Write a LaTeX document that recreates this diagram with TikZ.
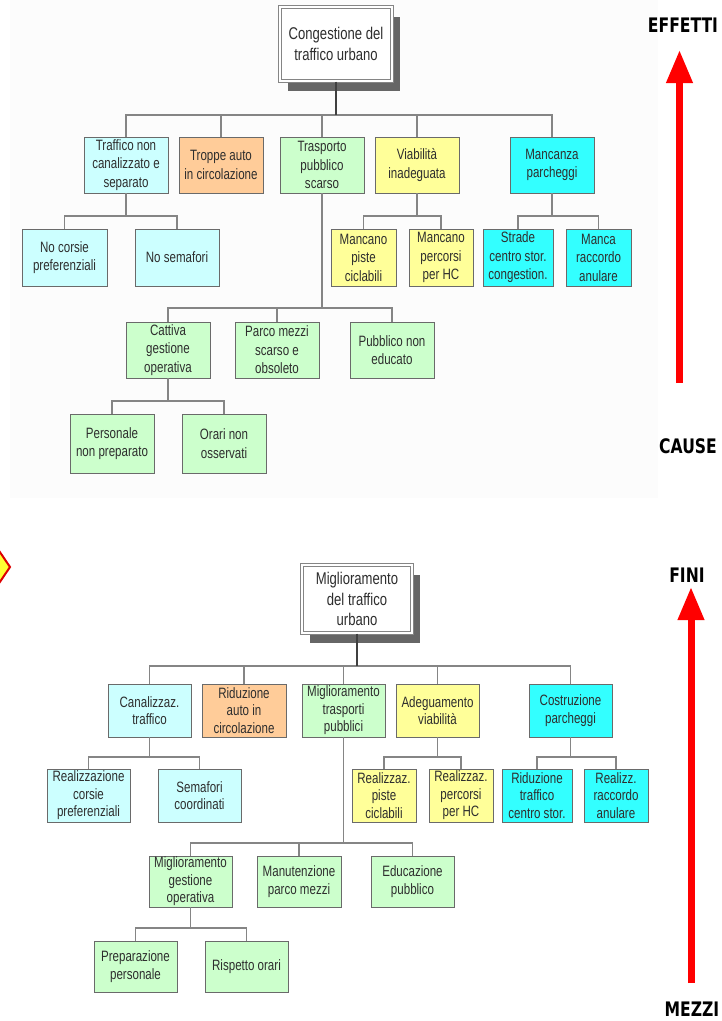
\documentclass[tikz,border=0pt]{standalone}
\usepackage{fontspec}
\newfontfamily\boxfont[FakeStretch=0.77]{Liberation Sans}
\newfontfamily\lblfont[FakeStretch=0.78]{DejaVu Sans}
\usetikzlibrary{arrows.meta,shadows}
\definecolor{cyanL}{HTML}{CCFFFF}
\definecolor{orangeL}{HTML}{FFCC99}
\definecolor{greenL}{HTML}{CCFFCC}
\definecolor{yellowL}{HTML}{FFFF99}
\definecolor{cyanS}{HTML}{33FFFF}
\definecolor{boxline}{HTML}{6A6A6A}
\definecolor{connc}{HTML}{858585}
\definecolor{txtc}{HTML}{2E2E2E}
\definecolor{panelbg}{HTML}{FCFCFC}
\definecolor{shadowc}{HTML}{666666}
\definecolor{diamondfill}{HTML}{FFFF33}
\definecolor{diamondline}{HTML}{DD0000}
\tikzset{
  box/.style={draw=boxline, line width=0.9pt, align=center, inner sep=0pt,
    text=txtc, font=\boxfont\fontsize{15}{18.5}\selectfont},
  boxb/.style={box, font=\boxfont\fontsize{15}{17.5}\selectfont},
  rootbox/.style={draw=connc, line width=1.3pt, double=white, double distance=1.6pt,
    fill=white, align=center, inner sep=0pt, text=txtc,
    drop shadow={shadow xshift=8pt, shadow yshift=-10pt, fill=shadowc, opacity=1}},
  conn/.style={draw=connc, line width=1.2pt},
  rootconn/.style={draw=black!75, line width=1.5pt},
  lbl/.style={font=\lblfont\bfseries\fontsize{20}{20}\selectfont, text=black, inner sep=0pt},
  bigarrow/.style={draw=red, line width=7pt, -{Triangle[width=25pt,length=33pt]}}
}
\begin{document}
\begin{tikzpicture}[x=1pt,y=-1pt]
\useasboundingbox (0,0) rectangle (722,1021);
\clip (0,0) rectangle (722,1021);
\fill[white] (0,0) rectangle (722,1021);
\fill[panelbg] (10,0) rectangle (658,498);

% ---------------- top tree ----------------
\node[rootbox, minimum width=112pt, minimum height=74pt,
  font=\boxfont\fontsize{17}{21}\selectfont] (root1) at (336,44) {Congestione del\\traffico urbano};

\node[box, fill=cyanL,   minimum width=84pt, minimum height=56pt] (a1) at (126,165) {Traffico non\\canalizzato e\\separato};
\node[box, fill=orangeL, minimum width=84pt, minimum height=56pt] (a2) at (221,165) {Troppe auto\\in circolazione};
\node[box, fill=greenL,  minimum width=84pt, minimum height=56pt] (a3) at (322,165) {Trasporto\\pubblico\\scarso};
\node[box, fill=yellowL, minimum width=84pt, minimum height=56pt] (a4) at (417,165) {Viabilità\\inadeguata};
\node[box, fill=cyanS,   minimum width=84pt, minimum height=56pt] (a5) at (552,165) {Mancanza\\parcheggi};

\node[box, fill=cyanL,   minimum width=85pt, minimum height=57pt] (b1) at (64.5,257.5) {No corsie\\preferenziali};
\node[box, fill=cyanL,   minimum width=84pt, minimum height=57pt] (b2) at (177,257.5) {No semafori};
\node[box, fill=yellowL, minimum width=65pt, minimum height=57pt] (b3) at (363.5,257.5) {Mancano\\piste\\ciclabili};
\node[box, fill=yellowL, minimum width=64pt, minimum height=57pt] (b4) at (441,257.5) {Mancano\\percorsi\\per HC};
\node[box, fill=cyanS,   minimum width=70pt, minimum height=57pt] (b5) at (518,257.5) {Strade\\centro stor.\\congestion.};
\node[box, fill=cyanS,   minimum width=65pt, minimum height=57pt] (b6) at (598.5,257.5) {Manca\\raccordo\\anulare};

\node[box, fill=greenL, minimum width=84pt, minimum height=56pt] (c1) at (168,350) {Cattiva\\gestione\\operativa};
\node[box, fill=greenL, minimum width=84pt, minimum height=56pt] (c2) at (277,350) {Parco mezzi\\scarso e\\obsoleto};
\node[box, fill=greenL, minimum width=84pt, minimum height=56pt] (c3) at (392,350) {Pubblico non\\educato};

\node[box, fill=greenL, minimum width=84pt, minimum height=59pt] (d1) at (112,443.5) {Personale\\non preparato};
\node[box, fill=greenL, minimum width=84pt, minimum height=59pt] (d2) at (224,443.5) {Orari non\\osservati};

\coordinate (k0) at (336,115);
\coordinate (k1) at (126,216);
\coordinate (k4) at (417,216);
\coordinate (k5) at (552,216);
\coordinate (k3) at (322,308);
\coordinate (kc) at (168,401);

\foreach \c in {a1,a2,a3,a4,a5} \draw[conn] (k0) -| (\c.north);
\draw[rootconn] (root1.south) -- (k0);
\foreach \c in {b1,b2} \draw[conn] (a1.south) -- (k1) -| (\c.north);
\foreach \c in {b3,b4} \draw[conn] (a4.south) -- (k4) -| (\c.north);
\foreach \c in {b5,b6} \draw[conn] (a5.south) -- (k5) -| (\c.north);
\foreach \c in {c1,c2,c3} \draw[conn] (a3.south) -- (k3) -| (\c.north);
\foreach \c in {d1,d2} \draw[conn] (c1.south) -- (kc) -| (\c.north);

% ---------------- bottom tree ----------------
\node[rootbox, minimum width=110pt, minimum height=68pt,
  font=\boxfont\fontsize{17}{20.5}\selectfont] (root2) at (357,599) {Miglioramento\\del traffico\\urbano};

\node[boxb, fill=cyanL,   minimum width=83pt, minimum height=53pt] (e1) at (149.5,710.5) {Canalizzaz.\\traffico};
\node[boxb, fill=orangeL, minimum width=84pt, minimum height=53pt] (e2) at (244,710.5) {Riduzione\\auto in\\circolazione};
\node[boxb, fill=greenL,  minimum width=83pt, minimum height=53pt] (e3) at (343.5,710.5) {Miglioramento\\trasporti\\pubblici};
\node[boxb, fill=yellowL, minimum width=83pt, minimum height=53pt] (e4) at (437.5,710.5) {Adeguamento\\viabilità};
\node[boxb, fill=cyanS,   minimum width=83pt, minimum height=53pt] (e5) at (570.5,710.5) {Costruzione\\parcheggi};

\node[boxb, fill=cyanL,   minimum width=83pt, minimum height=53pt] (f1) at (88.5,795.5) {Realizzazione\\corsie\\preferenziali};
\node[boxb, fill=cyanL,   minimum width=83pt, minimum height=53pt] (f2) at (199.5,795.5) {Semafori\\coordinati};
\node[boxb, fill=yellowL, minimum width=64pt, minimum height=53pt] (f3) at (384,795.5) {Realizzaz.\\piste\\ciclabili};
\node[boxb, fill=yellowL, minimum width=64pt, minimum height=53pt] (f4) at (461,795.5) {Realizzaz.\\percorsi\\per HC};
\node[boxb, fill=cyanS,   minimum width=70pt, minimum height=53pt] (f5) at (537,795.5) {Riduzione\\traffico\\centro stor.};
\node[boxb, fill=cyanS,   minimum width=64pt, minimum height=53pt] (f6) at (616,795.5) {Realizz.\\raccordo\\anulare};

\node[boxb, fill=greenL, minimum width=83pt, minimum height=51pt] (g1) at (190.5,881.5) {Miglioramento\\gestione\\operativa};
\node[boxb, fill=greenL, minimum width=84pt, minimum height=51pt] (g2) at (299,881.5) {Manutenzione\\parco mezzi};
\node[boxb, fill=greenL, minimum width=83pt, minimum height=51pt] (g3) at (412.5,881.5) {Educazione\\pubblico};

\node[boxb, fill=greenL, minimum width=83pt, minimum height=51pt] (h1) at (135.5,966.5) {Preparazione\\personale};
\node[boxb, fill=greenL, minimum width=83pt, minimum height=51pt] (h2) at (246.5,966.5) {Rispetto orari};

\coordinate (m0) at (357,666);
\coordinate (m1) at (149.5,757);
\coordinate (m4) at (437.5,757);
\coordinate (m5) at (570.5,757);
\coordinate (m3) at (343.5,843);
\coordinate (mg) at (190.5,928);

\foreach \c in {e1,e2,e3,e4,e5} \draw[conn] (m0) -| (\c.north);
\draw[rootconn] (root2.south) -- (m0);
\foreach \c in {f1,f2} \draw[conn] (e1.south) -- (m1) -| (\c.north);
\foreach \c in {f3,f4} \draw[conn] (e4.south) -- (m4) -| (\c.north);
\foreach \c in {f5,f6} \draw[conn] (e5.south) -- (m5) -| (\c.north);
\foreach \c in {g1,g2,g3} \draw[conn] (e3.south) -- (m3) -| (\c.north);
\foreach \c in {h1,h2} \draw[conn] (g1.south) -- (mg) -| (\c.north);

% ---------------- side arrows and labels ----------------
\node[lbl] (effetti) at (683,25) {EFFETTI};
\node[lbl] (cause) at (688,446) {CAUSE};
\node[lbl] (fini) at (687,575) {FINI};
\node[lbl] (mezzi) at (692,1009) {MEZZI};

\coordinate (r1b) at (679.5,383);
\coordinate (r1t) at (679.5,50);
\coordinate (r2b) at (691,983);
\coordinate (r2t) at (691,587);
\draw[bigarrow] (r1b) -- (r1t);
\draw[bigarrow] (r2b) -- (r2t);

% ---------------- partial diamond at left edge ----------------
\filldraw[fill=diamondfill, draw=diamondline, line width=2pt]
  (10,567) -- (-15,530) -- (-40,567) -- (-15,604) -- cycle;
\end{tikzpicture}
\end{document}
